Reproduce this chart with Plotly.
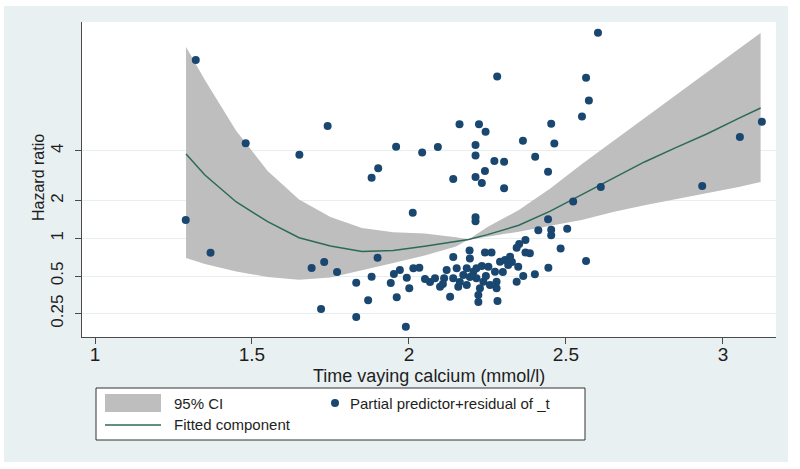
import plotly.graph_objects as go

# ---- data ----
calcium = [1.289, 1.321, 1.368, 1.480, 1.651, 1.741, 1.690, 1.730, 1.771, 1.720,
           1.832, 1.832, 1.881, 1.870, 1.900, 1.942, 1.952, 1.961, 1.971, 1.881,
           1.902, 1.959, 2.012, 2.042, 2.092, 2.161, 2.223, 2.244, 2.212, 2.212,
           2.272, 2.242, 2.141, 2.212, 2.232, 2.303, 2.303, 2.281, 2.363, 2.402,
           2.443, 2.453, 2.463, 2.551, 2.564, 2.573, 2.602, 2.611, 2.523, 2.934,
           3.054, 3.124, 2.212, 2.212, 2.443, 2.412, 2.453, 2.504, 2.453, 2.371,
           2.351, 2.343, 2.483, 2.371, 2.385, 2.193, 2.242, 2.263, 2.141, 2.194,
           2.564, 2.322, 2.290, 2.306, 2.316, 2.444, 2.014, 2.033, 2.120, 2.152,
           2.184, 2.215, 2.253, 2.348, 2.364, 2.401, 1.993, 2.112, 2.067, 2.083,
           2.099, 2.001, 2.131, 2.141, 2.157, 2.173, 2.205, 2.215, 2.184, 2.226,
           2.221, 2.221, 2.237, 2.258, 2.274, 2.279, 2.279, 2.282, 2.343, 1.990,
           2.162, 2.194, 2.245, 2.108, 2.299, 2.328, 2.051, 2.232]
residual_hr = [1.40, 26.5, 0.767, 5.74, 4.65, 7.88, 0.579, 0.647, 0.538, 0.273,
               0.442, 0.235, 0.494, 0.320, 0.700, 0.440, 0.519, 0.338, 0.558, 3.05,
               3.62, 5.39, 1.60, 4.84, 5.36, 8.15, 8.13, 7.10, 5.56, 4.58,
               4.14, 3.45, 2.97, 3.08, 2.77, 4.09, 2.51, 19.6, 6.02, 4.48,
               3.40, 8.22, 5.72, 9.39, 19.1, 12.6, 43.8, 2.57, 1.97, 2.62,
               6.44, 8.53, 1.47, 1.37, 1.42, 1.16, 1.17, 1.19, 1.06, 0.97,
               0.90, 0.84, 0.83, 0.77, 0.76, 0.80, 0.77, 0.77, 0.71, 0.69,
               0.659, 0.713, 0.650, 0.671, 0.612, 0.582, 0.576, 0.582, 0.558, 0.576,
               0.576, 0.576, 0.593, 0.593, 0.500, 0.516, 0.485, 0.479, 0.448, 0.479,
               0.411, 0.399, 0.341, 0.479, 0.411, 0.509, 0.541, 0.479, 0.424, 0.399,
               0.352, 0.310, 0.450, 0.424, 0.541, 0.450, 0.399, 0.316, 0.450, 0.197,
               0.448, 0.491, 0.50, 0.432, 0.538, 0.647, 0.473, 0.60]

fit_x = [1.29, 1.35, 1.45, 1.55, 1.65, 1.75, 1.85, 1.95, 2.05, 2.15, 2.19,
         2.25, 2.35, 2.45, 2.55, 2.65, 2.75, 2.85, 2.95, 3.05, 3.12]
fit_hr = [4.71, 3.20, 1.95, 1.36, 1.01, 0.868, 0.785, 0.799, 0.863, 0.94, 0.978,
          1.07, 1.27, 1.65, 2.22, 3.03, 4.07, 5.29, 6.84, 9.06, 10.98]
ci_upper = [33.7, 18.4, 7.19, 3.45, 2.04, 1.48, 1.21, 1.12, 1.09, 1.02, 0.978,
            1.23, 1.68, 2.50, 3.90, 5.98, 9.14, 13.9, 21.3, 32.5, 43.6]
ci_lower = [0.696, 0.623, 0.543, 0.491, 0.466, 0.487, 0.558, 0.635, 0.729, 0.860, 0.978,
            1.03, 1.13, 1.26, 1.40, 1.62, 1.84, 2.06, 2.30, 2.57, 2.81]

x_ticks = [1, 1.5, 2, 2.5, 3]
y_tickvals = [0.25, 0.5, 1, 2, 5]
y_ticktext = ["0.25", "0.5", "1", "2", "4"]

legend_labels = ["95% CI", "Partial predictor+residual of _t", "Fitted component"]
x_title = "Time vaying calcium (mmol/l)"
y_title = "Hazard ratio"

# ---- styling ----
FONT = "Liberation Sans, Arial, sans-serif"
TXT = "#1e1e1e"
BAND = "#BEBEBE"
LINE = "#2C6A58"
DOT = "#1A476F"
BG = "#E9F0F2"

fig = go.Figure()
fig.add_trace(go.Scatter(
    x=fit_x + fit_x[::-1], y=ci_upper + ci_lower[::-1],
    fill="toself", fillcolor=BAND, line=dict(width=0), mode="lines",
    name=legend_labels[0], showlegend=False, hoverinfo="skip"))
fig.add_trace(go.Scatter(
    x=fit_x, y=fit_hr, mode="lines", line=dict(color=LINE, width=1.5),
    name=legend_labels[2], showlegend=False))
fig.add_trace(go.Scatter(
    x=calcium, y=residual_hr, mode="markers",
    marker=dict(color=DOT, size=8, line=dict(width=0)),
    name=legend_labels[1], showlegend=False))

W, H = 800, 469
L, R, T, B = 82, 24, 22, 132
pw, ph = W - L - R, H - T - B


def px(xp):
    return (xp - L) / pw


def py(yp):
    return (H - B - yp) / ph


shapes = [
    dict(type="rect", xref="paper", yref="paper", x0=px(4), x1=px(788), y0=py(462), y1=py(6),
         fillcolor=BG, line=dict(width=0), layer="below"),
    dict(type="rect", xref="paper", yref="paper", x0=0, x1=1, y0=0, y1=1,
         fillcolor="white", line=dict(width=0), layer="below"),
    # legend box
    dict(type="rect", xref="paper", yref="paper", x0=px(96), x1=px(585), y0=py(440), y1=py(388),
         fillcolor="white", line=dict(color="#333333", width=1)),
    dict(type="rect", xref="paper", yref="paper", x0=px(105), x1=px(161), y0=py(412), y1=py(394),
         fillcolor=BAND, line=dict(width=0)),
    dict(type="line", xref="paper", yref="paper", x0=px(105), x1=px(161), y0=py(425), y1=py(425),
         line=dict(color=LINE, width=1.5)),
    dict(type="circle", xref="paper", yref="paper", x0=px(331), x1=px(339), y0=py(407), y1=py(399),
         fillcolor=DOT, line=dict(width=0)),
]

annotations = [
    dict(text=x_title, xref="paper", yref="paper", x=0.5, y=py(376), xanchor="center",
         yanchor="middle", showarrow=False, font=dict(size=18, color=TXT, family=FONT)),
    dict(text=y_title, xref="paper", yref="paper", x=px(38), y=py(178), xanchor="center",
         yanchor="middle", textangle=-90, showarrow=False, font=dict(size=16, color=TXT, family=FONT)),
    dict(text=legend_labels[0], xref="paper", yref="paper", x=px(172), y=py(403), xanchor="left",
         yanchor="middle", showarrow=False, font=dict(size=15, color=TXT, family=FONT)),
    dict(text=legend_labels[1], xref="paper", yref="paper", x=px(348), y=py(403), xanchor="left",
         yanchor="middle", showarrow=False, font=dict(size=15, color=TXT, family=FONT)),
    dict(text=legend_labels[2], xref="paper", yref="paper", x=px(172), y=py(425), xanchor="left",
         yanchor="middle", showarrow=False, font=dict(size=15, color=TXT, family=FONT)),
]

fig.update_layout(
    width=W, height=H, margin=dict(l=L, r=R, t=T, b=B, pad=0, autoexpand=False),
    paper_bgcolor="white", plot_bgcolor="white",
    font=dict(family=FONT, color=TXT),
    shapes=shapes, annotations=annotations, showlegend=False,
    xaxis=dict(range=[0.9586, 3.169], tickvals=x_ticks, showgrid=False, zeroline=False,
               showline=True, linecolor="#4a4a4a", linewidth=1, ticks="outside", ticklen=6,
               tickcolor="#4a4a4a", ticklabelstandoff=-6, automargin=False,
               tickfont=dict(size=19, color=TXT, family=FONT)),
    yaxis=dict(type="log", range=[-0.788, 1.727], tickvals=y_tickvals, ticktext=y_ticktext,
               showgrid=True, gridcolor="#E6EEF0", gridwidth=1, zeroline=False,
               showline=True, linecolor="#4a4a4a", linewidth=1, ticks="outside", ticklen=6,
               tickcolor="#4a4a4a", tickangle=-90, ticklabelstandoff=5, automargin=False,
               tickfont=dict(size=17, color=TXT, family=FONT)),
)

fig.write_html("out.html", config={"displayModeBar": False},
               post_script="document.body.style.margin='0';document.body.style.padding='0';")
